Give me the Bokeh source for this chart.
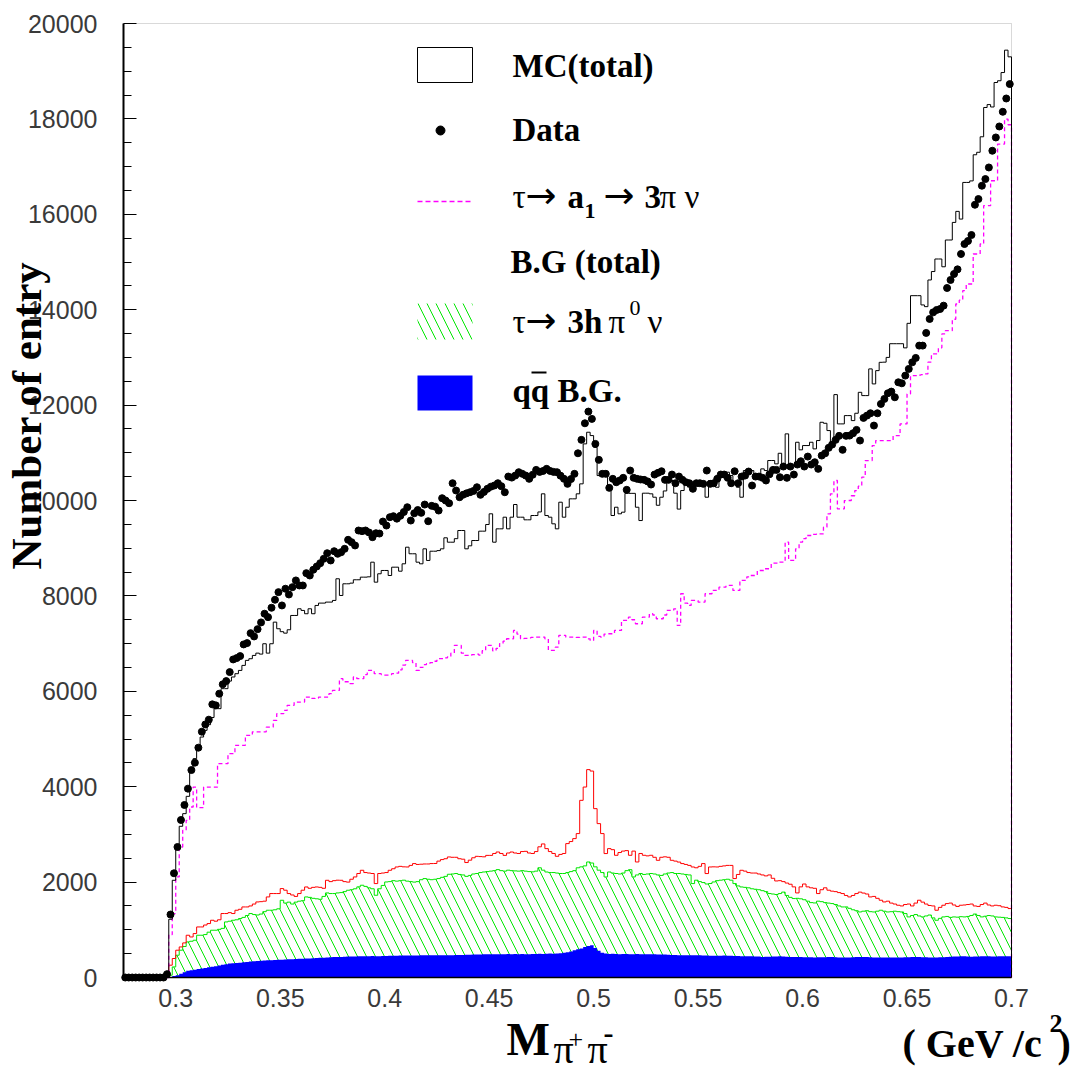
import math
from bokeh.plotting import figure
from bokeh.models import (Label, FixedTicker, ColumnDataSource, LinearAxis,
                          Range1d, BoxAnnotation, Grid)
from bokeh.embed import file_html
from bokeh.resources import INLINE

# ---------------- data ----------------
X_MIN, X_MAX, N_BINS = 0.275, 0.7, 255
Y_MAX = 20000

data_counts = [
    0, 0, 0, 0, 0, 0, 0, 0, 0, 0,
    0, 0, 70, 1320, 2185, 2736, 3302, 3617, 3959, 4349,
    4504, 4818, 5153, 5306, 5405, 5726, 5705, 5950, 6146, 6214,
    6402, 6668, 6696, 6738, 6983, 7010, 7219, 7150, 7303, 7444,
    7626, 7555, 7751, 7919, 8079, 7800, 8150, 8030, 8183, 8324,
    8219, 8219, 8477, 8428, 8548, 8617, 8686, 8778, 8895, 8743,
    8937, 8883, 8916, 8987, 9176, 9126, 9057, 9371, 9357, 9371,
    9330, 9231, 9314, 9307, 9559, 9475, 9650, 9671, 9620, 9679,
    9760, 9859, 9580, 9733, 9800, 9741, 9915, 9566, 9888, 9870,
    9790, 10048, 10000, 9943, 10362, 10209, 10069, 10120, 10150, 10173,
    10200, 10278, 10119, 10180, 10245, 10290, 10314, 10362, 10300, 10173,
    10502, 10480, 10523, 10593, 10560, 10523, 10454, 10540, 10642, 10600,
    10620, 10663, 10620, 10600, 10593, 10520, 10454, 10349, 10450, 10559,
    10990, 11271, 11619, 11864, 11711, 11187, 10852, 10559, 10559, 10265,
    10454, 10383, 10420, 10475, 10224, 10628, 10475, 10454, 10440, 10433,
    10400, 10335, 10544, 10580, 10613, 10433, 10433, 10544, 10362, 10502,
    10433, 10383, 10362, 10245, 10362, 10362, 10349, 10628, 10349, 10362,
    10454, 10544, 10544, 10475, 10362, 10613, 10362, 10502, 10523, 10607,
    10314, 10502, 10502, 10475, 10419, 10550, 10642, 10642, 10488, 10712,
    10475, 10712, 10544, 10754, 10823, 10712, 10921, 10754, 10802, 10663,
    10942, 10990, 11104, 11173, 11271, 11355, 11062, 11355, 11361, 11410,
    11480, 11257, 11732, 11780, 11829, 11571, 11829, 12025, 12130, 12248,
    12283, 12164, 12478, 12457, 12618, 12759, 12897, 12989, 13247, 13247,
    13513, 13806, 13944, 13994, 14015, 14085, 14455, 14623, 14749, 14846,
    15168, 15377, 15440, 15566, 16200, 16320, 16599, 16739, 16982, 17332,
    17611, 17841, 18149, 18428, 18730,
]

mc_total = [
    0, 0, 0, 0, 0, 0, 0, 0, 0, 0,
    0, 0, 0, 1221, 2038, 2682, 3170, 3435, 3798, 4322,
    4588, 4850, 5041, 5181, 5300, 5450, 5636, 5636, 6055, 6055,
    6214, 6300, 6369, 6438, 6543, 6648, 6683, 6752, 6800, 6780,
    6997, 6800, 6997, 7450, 7311, 7250, 7219, 7290, 7590, 7590,
    7730, 7695, 7626, 7730, 7626, 7800, 7849, 7849, 7870, 7870,
    7905, 8359, 8009, 8254, 8254, 8268, 8338, 8338, 8393, 8393,
    8400, 8707, 8288, 8464, 8533, 8533, 8428, 8602, 8602, 8518,
    8673, 9021, 8883, 8883, 8707, 8673, 8987, 8743, 8937, 8937,
    8950, 8987, 9218, 9126, 9126, 9200, 9371, 9371, 8987, 9050,
    9161, 9161, 9357, 9357, 9497, 9721, 9126, 9406, 9406, 9650,
    9406, 9650, 9916, 9650, 9650, 9595, 9595, 9685, 9685, 9760,
    10140, 9685, 9650, 9511, 9406, 9964, 9650, 9859, 10035, 10035,
    10140, 10349, 11187, 11431, 11361, 11116, 10523, 10593, 10593, 10209,
    9685, 9859, 9721, 9755, 10150, 10150, 10150, 9859, 9580, 10153,
    10153, 10140, 10069, 9900, 10069, 10200, 10419, 10419, 10153, 9820,
    10209, 10349, 10280, 10349, 10349, 10383, 10383, 10069, 10419, 10383,
    10278, 10488, 10559, 10593, 10523, 10383, 10278, 10069, 10628, 10628,
    10628, 10488, 10523, 10663, 10628, 10838, 10838, 10768, 10990, 10768,
    11397, 10733, 10733, 11221, 11062, 11152, 11152, 11221, 11082, 11257,
    11640, 11619, 11466, 11221, 12220, 11606, 11606, 11780, 11780, 11675,
    11829, 12268, 12199, 12199, 12759, 12444, 12723, 12897, 12900, 13000,
    13287, 13287, 13287, 13287, 13200, 13714, 14294, 14294, 14294, 14100,
    14064, 14623, 14800, 15063, 15063, 14900, 15461, 15461, 15830, 16061,
    15900, 16668, 16668, 16700, 17248, 17300, 17625, 18239, 18300, 18250,
    18763, 18800, 18972, 19441, 19301,
]

sig_a1 = [
    0, 0, 0, 0, 0, 0, 0, 0, 0, 0,
    0, 0, 0, 900, 1341, 2108, 2736, 3086, 3295, 3574,
    3993, 3561, 3561, 3993, 3993, 3993, 3993, 4483, 4483, 4483,
    4693, 4693, 4867, 4867, 4867, 5076, 5076, 5150, 5150, 5150,
    5150, 5250, 5250, 5390, 5531, 5531, 5600, 5705, 5705, 5774,
    5774, 5774, 5879, 5879, 5850, 5860, 5879, 5879, 5879, 5950,
    6019, 6019, 6264, 6200, 6200, 6160, 6300, 6264, 6264, 6350,
    6438, 6438, 6369, 6369, 6350, 6340, 6350, 6369, 6380, 6450,
    6550, 6648, 6648, 6600, 6438, 6500, 6560, 6578, 6600, 6630,
    6683, 6683, 6700, 6720, 6800, 6962, 6962, 6800, 6752, 6752,
    6770, 6780, 6760, 6850, 6962, 6962, 6850, 6900, 7000, 7050,
    7102, 7102, 7276, 7200, 7102, 7110, 7120, 7130, 7136, 7136,
    7136, 7102, 6857, 6857, 6926, 7171, 7171, 7136, 7136, 7136,
    7130, 7136, 7136, 7100, 7067, 7276, 7150, 7136, 7200, 7206,
    7206, 7276, 7276, 7485, 7485, 7555, 7500, 7416, 7416, 7555,
    7555, 7626, 7600, 7521, 7521, 7600, 7695, 7695, 7730, 7381,
    8045, 7850, 7800, 7905, 7905, 7870, 7870, 8045, 8045, 8114,
    8114, 8183, 8183, 8219, 8219, 8114, 8114, 8324, 8324, 8400,
    8428, 8428, 8533, 8533, 8569, 8569, 8686, 8686, 8707, 8707,
    9126, 8743, 8743, 8987, 9126, 9200, 9266, 9266, 9290, 9302,
    9302, 9441, 9721, 10140, 10419, 9826, 9826, 9999, 10000, 10100,
    10209, 10300, 10488, 10838, 10838, 11152, 11257, 11257, 11257, 11257,
    11257, 11361, 11361, 11606, 11606, 12235, 12618, 12618, 12630, 12640,
    12653, 12900, 13073, 13073, 13200, 13492, 13561, 13561, 13800, 14120,
    14200, 14399, 14539, 14539, 15168, 15168, 15377, 16180, 16180, 16703,
    16703, 17472, 17472, 17996, 17877,
]

bg_total = [
    0, 0, 0, 0, 0, 0, 0, 0, 0, 0,
    0, 0, 0, 258, 398, 572, 641, 725, 886, 850,
    921, 1060, 1060, 1100, 1131, 1200, 1180, 1210, 1341, 1341,
    1360, 1341, 1410, 1430, 1479, 1479, 1500, 1540, 1584, 1590,
    1600, 1689, 1760, 1760, 1760, 1864, 1830, 1760, 1730, 1700,
    1760, 1830, 1898, 1870, 1890, 1898, 1890, 1870, 2038, 2010,
    2030, 2040, 2038, 2010, 2000, 2060, 2108, 2180, 2248, 2200,
    2190, 2180, 1969, 2180, 2190, 2200, 2248, 2280, 2317, 2330,
    2320, 2317, 2350, 2388, 2370, 2375, 2380, 2380, 2388, 2390,
    2440, 2472, 2490, 2527, 2520, 2520, 2490, 2480, 2410, 2460,
    2510, 2540, 2535, 2530, 2560, 2560, 2600, 2631, 2600, 2560,
    2610, 2631, 2610, 2600, 2640, 2645, 2610, 2600, 2640, 2740,
    2800, 2702, 2640, 2600, 2541, 2580, 2600, 2807, 2850, 2912,
    3017, 3714, 3993, 4358, 4328, 3540, 3226, 3017, 2598, 2702,
    2680, 2562, 2620, 2650, 2660, 2562, 2650, 2422, 2600, 2562,
    2550, 2562, 2520, 2457, 2520, 2530, 2520, 2457, 2440, 2420,
    2388, 2370, 2350, 2317, 2300, 2330, 2388, 2179, 2317, 2320,
    2317, 2330, 2340, 2350, 2350, 2074, 2160, 2248, 2230, 2200,
    2190, 2190, 2170, 2150, 2130, 2150, 2080, 2024, 2030, 2010,
    1980, 1955, 1900, 1773, 1900, 1960, 1900, 1880, 1870, 1760,
    1840, 1880, 1830, 1810, 1800, 1780, 1760, 1720, 1689, 1720,
    1760, 1790, 1770, 1750, 1689, 1700, 1660, 1620, 1584, 1600,
    1560, 1540, 1515, 1500, 1530, 1540, 1500, 1560, 1620, 1580,
    1540, 1510, 1500, 1410, 1470, 1515, 1550, 1560, 1520, 1490,
    1515, 1520, 1530, 1540, 1500, 1490, 1530, 1560, 1520, 1500,
    1515, 1505, 1480, 1470, 1445,
]

bg_3hpi0 = [
    0, 0, 0, 0, 0, 0, 0, 0, 0, 0,
    0, 0, 0, 48, 222, 467, 572, 650, 746, 760,
    781, 886, 886, 900, 950, 991, 991, 1010, 1030, 1165,
    1180, 1200, 1210, 1236, 1260, 1300, 1341, 1320, 1310, 1330,
    1380, 1410, 1410, 1420, 1440, 1619, 1560, 1580, 1540, 1580,
    1600, 1610, 1689, 1680, 1660, 1650, 1640, 1700, 1773, 1760,
    1760, 1773, 1780, 1800, 1829, 1840, 1860, 1900, 1934, 1910,
    1880, 1860, 1724, 1860, 1930, 2003, 2010, 2030, 2020, 2030,
    2040, 2020, 2010, 2000, 2010, 2050, 2074, 2060, 2050, 2060,
    2074, 2100, 2120, 2164, 2170, 2180, 2160, 2150, 2120, 2140,
    2170, 2180, 2200, 2212, 2220, 2230, 2240, 2262, 2240, 2230,
    2250, 2240, 2235, 2230, 2240, 2230, 2220, 2215, 2230, 2300,
    2250, 2212, 2200, 2200, 2190, 2180, 2180, 2200, 2220, 2240,
    2300, 2320, 2340, 2422, 2400, 2320, 2250, 2200, 2108, 2212,
    2190, 2180, 2170, 2190, 2240, 2260, 2108, 2150, 2180, 2160,
    2170, 2180, 2170, 2150, 2140, 2170, 2190, 2200, 2180, 2180,
    2170, 2160, 2150, 1969, 2040, 2010, 1990, 1960, 1970, 2003,
    2030, 2040, 2050, 2060, 2040, 1969, 1920, 1898, 1890, 1880,
    1860, 1850, 1840, 1820, 1800, 1760, 1750, 1740, 1760, 1790,
    1720, 1680, 1655, 1660, 1650, 1630, 1600, 1570, 1563, 1600,
    1590, 1570, 1560, 1550, 1530, 1500, 1479, 1480, 1450, 1420,
    1400, 1374, 1390, 1400, 1380, 1374, 1390, 1410, 1390, 1374,
    1380, 1390, 1380, 1374, 1340, 1270, 1300, 1320, 1290, 1270,
    1290, 1310, 1250, 1200, 1240, 1270, 1280, 1260, 1270, 1265,
    1275, 1270, 1280, 1300, 1330, 1300, 1270, 1285, 1300, 1290,
    1270, 1265, 1260, 1250, 1236,
]

bg_qq = [
    0, 0, 0, 0, 0, 0, 0, 0, 0, 0,
    0, 0, 0, 10, 30, 48, 80, 110, 139, 150,
    165, 180, 188, 200, 215, 225, 237, 250, 265, 280,
    293, 300, 305, 310, 318, 325, 335, 340, 348, 350,
    355, 360, 362, 366, 370, 374, 377, 380, 385, 388,
    392, 395, 398, 400, 404, 408, 412, 416, 420, 424,
    428, 430, 432, 436, 438, 440, 442, 446, 448, 446,
    448, 450, 446, 448, 450, 452, 455, 456, 458, 461,
    460, 462, 460, 463, 462, 465, 464, 466, 465, 467,
    466, 468, 467, 469, 468, 470, 472, 474, 476, 478,
    480, 482, 484, 488, 486, 488, 490, 489, 488, 490,
    491, 490, 492, 490, 491, 488, 490, 492, 494, 496,
    494, 500, 502, 498, 502, 510, 520, 530, 545, 572,
    590, 610, 641, 660, 677, 620, 560, 520, 505, 495,
    498, 495, 490, 492, 494, 490, 488, 492, 490, 488,
    486, 488, 485, 482, 484, 480, 476, 472, 470, 468,
    466, 468, 467, 465, 466, 464, 462, 460, 458, 458,
    456, 458, 460, 456, 454, 452, 450, 448, 446, 445,
    444, 442, 440, 432, 434, 436, 440, 442, 446, 440,
    436, 432, 430, 432, 428, 426, 424, 422, 420, 422,
    424, 426, 432, 428, 424, 420, 418, 419, 420, 424,
    428, 430, 432, 428, 424, 420, 418, 419, 418, 420,
    419, 418, 419, 420, 422, 424, 430, 432, 428, 425,
    422, 420, 419, 420, 422, 424, 430, 434, 438, 440,
    444, 446, 440, 436, 438, 440, 446, 448, 444, 440,
    442, 446, 444, 446, 446,
]

x_ticks = [0.3, 0.35, 0.4, 0.45, 0.5, 0.55, 0.6, 0.65, 0.7]
x_tick_labels = ["0.3", "0.35", "0.4", "0.45", "0.5", "0.55", "0.6", "0.65", "0.7"]
y_ticks = [0, 2000, 4000, 6000, 8000, 10000, 12000, 14000, 16000, 18000, 20000]
y_minor_ticks = [v for v in range(0, Y_MAX + 1, 500) if v % 2000]

for arr in (data_counts, mc_total, sig_a1, bg_total, bg_3hpi0, bg_qq):
    assert len(arr) == N_BINS, len(arr)

# ---------------- geometry (page pixels of the plotting box) ----------------
W, H = 1073, 1072
FRAME_L, FRAME_T, FRAME_W, FRAME_H = 123, 23, 888, 954


def X(px):
    return X_MIN + (px - FRAME_L) * (X_MAX - X_MIN) / FRAME_W


def Y(py):
    return (FRAME_T + FRAME_H - py) * Y_MAX / FRAME_H


bin_w = (X_MAX - X_MIN) / N_BINS
edges = [X_MIN + i * bin_w for i in range(N_BINS + 1)]
centers = [X_MIN + (i + 0.5) * bin_w for i in range(N_BINS)]


def closed(v):
    return list(v) + [0]


src = ColumnDataSource(dict(
    x=edges, zero=[0] * (N_BINS + 1),
    mc=closed(mc_total), sig=closed(sig_a1), bg=closed(bg_total),
    hpi=closed(bg_3hpi0), qq=closed(bg_qq)))
dsrc = ColumnDataSource(dict(x=centers, y=data_counts))

p = figure(width=W, height=H,
           x_range=Range1d(X(0), X(W)), y_range=Range1d(Y(H), Y(0)),
           x_axis_location=None, y_axis_location=None,
           output_backend="svg", toolbar_location=None, min_border=0,
           background_fill_color="white", border_fill_color="white")
p.title.visible = False
p.outline_line_color = None
for r in p.center:
    if isinstance(r, Grid):
        r.visible = False

# plotting box border (grey top/right like the reference)
p.add_layout(BoxAnnotation(left=X_MIN, right=X_MAX, bottom=0, top=Y_MAX,
                           fill_alpha=0, line_color="#808080", line_width=1,
                           level="underlay"))

GREEN, RED, MAGENTA, BLUE = "#00e600", "#ff0000", "#ff00ff", "#0000ff"

p.varea_step(x="x", y1="zero", y2="hpi", source=src, step_mode="after",
             fill_color=None, hatch_pattern="\\", hatch_color=GREEN,
             hatch_scale=18, hatch_weight=1)
p.step(x="x", y="hpi", source=src, mode="after", line_color=GREEN, line_width=1)
p.varea_step(x="x", y1="zero", y2="qq", source=src, step_mode="after",
             fill_color=BLUE)
p.step(x="x", y="bg", source=src, mode="after", line_color=RED, line_width=1)
p.step(x="x", y="sig", source=src, mode="after", line_color=MAGENTA,
       line_width=1.3, line_dash="4 3")
p.step(x="x", y="mc", source=src, mode="after", line_color="black", line_width=1)
p.scatter(x="x", y="y", source=dsrc, size=7, color="black")

# ---------------- axes (library axes, fixed at the plotting box edges) ----------------
yax = LinearAxis(fixed_location=X_MIN, bounds=(0, Y_MAX),
                 ticker=FixedTicker(ticks=y_ticks, minor_ticks=y_minor_ticks))
yax.major_tick_in = 13
yax.major_tick_out = 0
yax.minor_tick_in = 8
yax.minor_tick_out = 0
yax.axis_line_width = 2
yax.axis_line_color = "black"
yax.major_tick_line_color = "black"
yax.minor_tick_line_color = "black"
yax.major_label_text_font = "Liberation Sans"
yax.major_label_text_font_size = "25px"
yax.major_label_text_color = "#3a3a3a"
yax.major_label_standoff = 26
p.add_layout(yax, "left")

xax = LinearAxis(fixed_location=0, bounds=(X_MIN, X_MAX),
                 ticker=FixedTicker(ticks=x_ticks, minor_ticks=[]))
xax.major_label_overrides = dict(zip(x_ticks, x_tick_labels))
xax.major_tick_in = 0
xax.major_tick_out = 0
xax.minor_tick_in = 0
xax.minor_tick_out = 0
xax.axis_line_color = "black"
xax.axis_line_width = 1.5
xax.major_label_text_font = "Liberation Sans"
xax.major_label_text_font_size = "25px"
xax.major_label_text_color = "#3a3a3a"
xax.major_label_standoff = 11
p.add_layout(xax, "below")

# ---------------- texts ----------------
SERIF = "Liberation Serif"
ARROW_FONT = "DejaVu Sans"
MID = 0.35   # distance from baseline to the em-box middle, in em


def add_text(s, px, py, size, bold=True, angle=0.0, align="left", font=SERIF):
    """px, py: page position of the text baseline start/centre."""
    mx = px - MID * size * math.sin(angle)
    my = py - MID * size * math.cos(angle)
    p.add_layout(Label(x=X(mx), y=Y(my), text=s, text_font=font,
                       text_font_style="bold" if bold else "normal",
                       text_font_size=f"{size}px", text_align=align,
                       text_baseline="middle", angle=angle,
                       text_color="black"))


# axis titles
add_text("Number of entry", 41, 415, 43, angle=math.pi / 2, align="center")
add_text("M", 506, 1055, 46)
add_text("\u03c0", 553, 1063, 40, bold=False)
add_text("+", 568, 1048, 26, bold=False)
add_text("\u03c0", 587, 1063, 40, bold=False)
add_text("-", 603, 1043, 30)
add_text("( GeV /c", 902, 1057, 40)
add_text("2", 1049, 1032, 26)
add_text(")", 1057, 1057, 40)

# legend keys
p.quad(left=[X(417)], right=[X(472)], top=[Y(47)], bottom=[Y(82)],
       fill_color=None, line_color="black", line_width=1)
p.scatter(x=[X(440)], y=[Y(130)], size=9, color="black")
p.segment(x0=[X(417)], y0=[Y(201)], x1=[X(472)], y1=[Y(201)],
          line_color=MAGENTA, line_width=1.6, line_dash="5 3")
p.quad(left=[X(417)], right=[X(472)], top=[Y(303)], bottom=[Y(339)],
       fill_color=None, line_color=None, hatch_pattern="\\",
       hatch_color=GREEN, hatch_scale=18, hatch_weight=1)
p.quad(left=[X(417)], right=[X(472)], top=[Y(375)], bottom=[Y(410)],
       fill_color=BLUE, line_color=None)

# legend labels
add_text("MC(total)", 512, 77, 33)
add_text("Data", 512, 141, 33)
add_text("\u03c4", 512, 208, 33, bold=False)
add_text("\u2192", 525, 208, 37, bold=False, font=ARROW_FONT)
add_text("a", 567, 208, 33)
add_text("1", 584, 218, 22)
add_text("\u2192", 603, 208, 37, bold=False, font=ARROW_FONT)
add_text("3", 644, 208, 33)
add_text("\u03c0 \u03bd", 659, 208, 33, bold=False)
add_text("B.G (total)", 510, 273, 33)
add_text("\u03c4", 512, 333, 33, bold=False)
add_text("\u2192", 525, 333, 37, bold=False, font=ARROW_FONT)
add_text("3h", 567, 333, 33)
add_text("\u03c0", 608, 333, 33, bold=False)
add_text("0", 629, 315, 22, bold=False)
add_text("\u03bd", 647, 333, 33, bold=False)
add_text("qq B.G.", 512, 402, 33)
p.segment(x0=[X(531)], y0=[Y(372)], x1=[X(546)], y1=[Y(372)],
          line_color="black", line_width=2)

open("out.html", "w").write(file_html(p, INLINE))
